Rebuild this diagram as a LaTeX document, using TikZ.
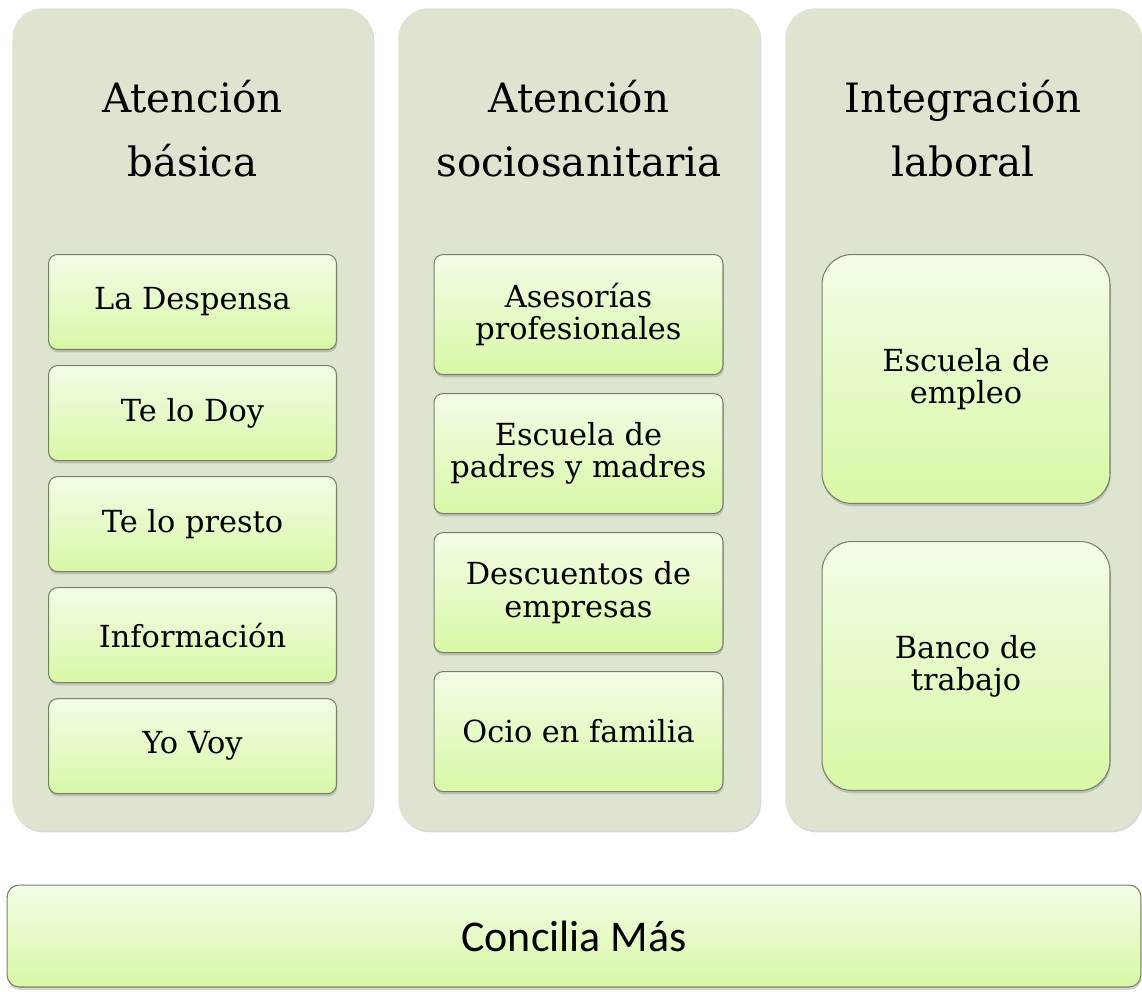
\documentclass[tikz,border=0pt]{standalone}
\usepackage{fontspec}
\setmainfont{DejaVu Serif}
\newfontfamily\barfont{Carlito}
\usepackage{xcolor}
\usepackage{tikz}
\usetikzlibrary{positioning, shadows}

\definecolor{panelfill}{RGB}{221,229,208}
\definecolor{boxtop}{RGB}{243,252,231}
\definecolor{boxbottom}{RGB}{217,248,166}
\definecolor{boxline}{RGB}{118,128,104}

\tikzset{
    panel/.style={rectangle, rounded corners=0.6cm, fill=panelfill, anchor=north west, inner sep=0pt,
        minimum height=16.44cm, drop shadow={shadow xshift=0.6pt, shadow yshift=-1.2pt, opacity=0.3}},
    heading/.style={align=center, font=\fontsize{23}{36}\selectfont},
    item/.style={rectangle, rounded corners=0.18cm, draw=boxline, line width=0.6pt,
        top color=boxtop, bottom color=boxbottom, align=center, inner sep=2pt,
        font=\fontsize{17.3}{18.3}\selectfont,
        drop shadow={shadow xshift=0.4pt, shadow yshift=-1.6pt, opacity=0.35}},
    smallitem/.style={item, minimum width=5.76cm, minimum height=1.9cm},
    miditem/.style={item, minimum width=5.78cm, minimum height=2.4cm},
    bigitem/.style={item, rounded corners=0.6cm, minimum width=5.76cm, minimum height=4.98cm},
}

\begin{document}
\begin{tikzpicture}[x=0.02cm, y=-0.02cm]
    \useasboundingbox (0,0) rectangle (1142,991);

    % three columns
    \node[panel, minimum width=7.22cm] (basica) at (12,8) {};
    \node[panel, minimum width=7.24cm] (socio) at (398,8) {};
    \node[panel, minimum width=7.12cm] (laboral) at (785,8) {};

    \node[heading] (tbasica) at (192.5,128.5) {Atención\\básica};
    \node[heading] (tsocio) at (579,128.5) {Atención\\sociosanitaria};
    \node[heading] (tlaboral) at (963,128.5) {Integración\\laboral};

    % Atención básica
    \node[smallitem, anchor=north] (despensa) at (192.5,254) {La Despensa};
    \node[smallitem, below=0.3cm of despensa] (doy) {Te lo Doy};
    \node[smallitem, below=0.3cm of doy] (presto) {Te lo presto};
    \node[smallitem, below=0.3cm of presto] (info) {Información};
    \node[smallitem, below=0.3cm of info] (voy) {Yo Voy};

    % Atención sociosanitaria
    \node[miditem, anchor=north] (asesorias) at (578.5,254) {Asesorías\\profesionales};
    \node[miditem, below=0.36cm of asesorias] (padres) {Escuela de\\padres y madres};
    \node[miditem, below=0.36cm of padres] (descuentos) {Descuentos de\\empresas};
    \node[miditem, below=0.36cm of descuentos] (ocio) {Ocio en familia};

    % Integración laboral
    \node[bigitem, anchor=north] (empleo) at (966,254) {Escuela de\\empleo};
    \node[bigitem, below=0.74cm of empleo] (banco) {Banco de\\trabajo};

    % bottom bar
    \node[item, rounded corners=0.24cm, minimum width=22.68cm, minimum height=2.04cm,
        font=\barfont\fontsize{25}{30}\selectfont] (concilia) at (574,936) {Concilia Más};
\end{tikzpicture}
\end{document}
